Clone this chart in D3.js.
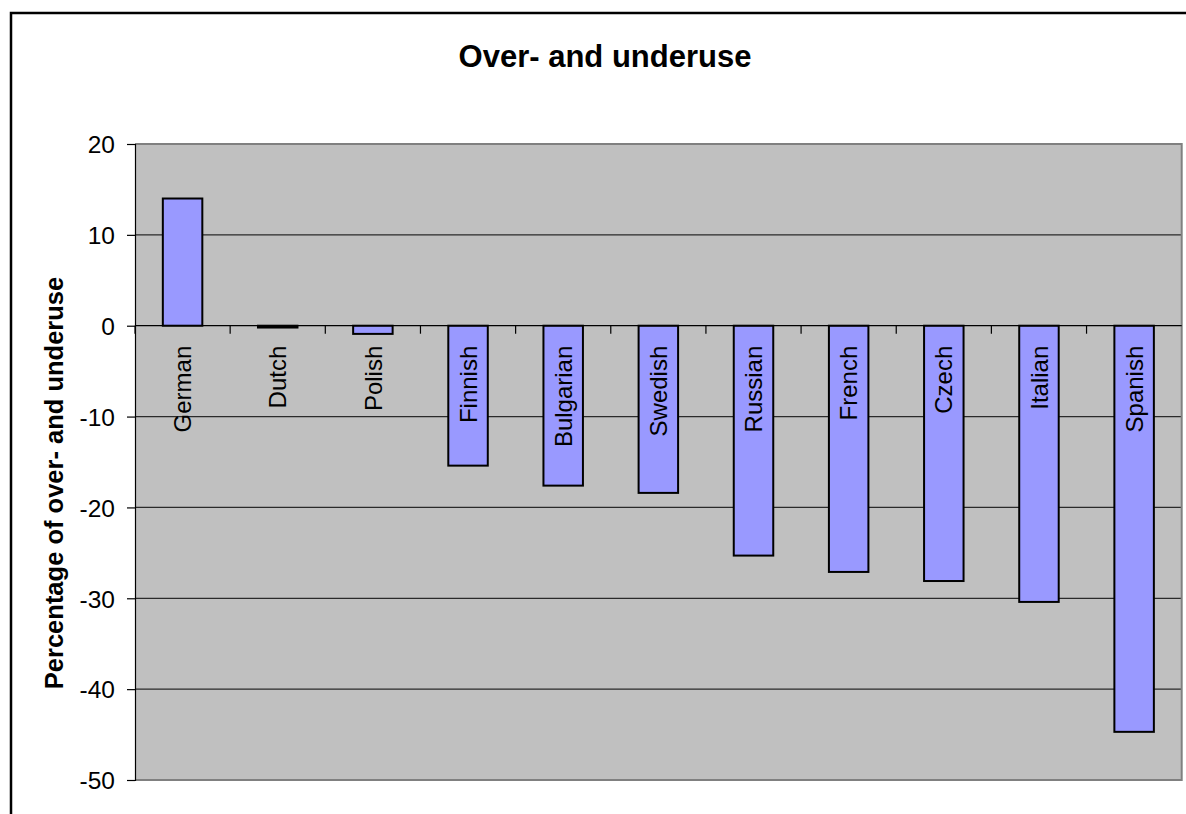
<!DOCTYPE html>
<meta charset="utf-8">
<style>
  body { margin: 0; background: #fff; }
  svg text { font-family: "Liberation Sans", Arial, sans-serif; fill: #000; }
</style>

<!-- Load d3.js -->
<script src="https://d3js.org/d3.v7.min.js"></script>

<!-- Create a div where the graph will take place -->
<div id="overuse"></div>

<script>
    // data
    var languages = ["German", "Dutch", "Polish", "Finnish", "Bulgarian", "Swedish",
                     "Russian", "French", "Czech", "Italian", "Spanish"];
    var percentages = [14.0, -0.2, -0.9, -15.4, -17.6, -18.4, -25.3, -27.1, -28.1, -30.4, -44.7];
    var yTicks = [20, 10, 0, -10, -20, -30, -40, -50];

    var data = languages.map(function(d, i) { return {lang: d, value: percentages[i]}; });

    var W = 1186, H = 814;
    var margin = {top: 144, right: 4.3, bottom: 34, left: 135},
        width = W - margin.left - margin.right,
        height = H - margin.top - margin.bottom;

    var root = d3.select("#overuse")
      .append("svg")
        .attr("width", W)
        .attr("height", H);

    // outer chart frame (runs off the right and bottom edge)
    root.append("rect")
        .attr("x", 11).attr("y", 13)
        .attr("width", 1300).attr("height", 1000)
        .attr("fill", "#fff")
        .attr("stroke", "#000")
        .attr("stroke-width", 2.5);

    root.append("text")
        .attr("x", 605).attr("y", 67)
        .attr("text-anchor", "middle")
        .style("font-size", "31px")
        .style("font-weight", "bold")
        .text("Over- and underuse");

    root.append("text")
        .attr("transform", "translate(63,483)rotate(-90)")
        .attr("text-anchor", "middle")
        .style("font-size", "25.5px")
        .style("font-weight", "bold")
        .text("Percentage of over- and underuse");

    var svg = root.append("g")
        .attr("transform", "translate(" + margin.left + "," + margin.top + ")");

    var x = d3.scaleBand()
      .domain(languages)
      .range([0, width])
      .paddingInner(0.585)
      .paddingOuter(0.2925);

    var y = d3.scaleLinear()
      .domain([-50, 20])
      .range([height, 0]);

    // plot background
    svg.append("rect")
        .attr("width", width)
        .attr("height", height)
        .attr("fill", "#c0c0c0");

    // gridlines
    svg.selectAll("grid")
      .data(yTicks.filter(function(t) { return t !== 0 && t !== 20 && t !== -50; }))
      .enter()
      .append("line")
        .attr("x1", 0).attr("x2", width)
        .attr("y1", function(d) { return y(d); })
        .attr("y2", function(d) { return y(d); })
        .attr("stroke", "#2a2a2a")
        .attr("stroke-width", 1.2);

    // plot border top/right/bottom
    svg.append("path")
        .attr("d", "M0,0H" + width + "V" + height + "H0")
        .attr("fill", "none")
        .attr("stroke", "#808080")
        .attr("stroke-width", 2);

    // Y axis (plain hyphen for negatives, like the original)
    var yAxis = svg.append("g")
        .call(d3.axisLeft(y).tickValues(yTicks).tickSize(8).tickPadding(12)
              .tickFormat(function(d) { return String(d); }));
    yAxis.select(".domain").attr("stroke", "#000").attr("stroke-width", 1.2);
    yAxis.selectAll(".tick line").attr("stroke", "#000").attr("stroke-width", 1.2);
    yAxis.selectAll("text")
        .attr("dy", "0.36em")
        .style("font-size", "24.5px")
        .style("font-family", "'Liberation Sans', Arial, sans-serif");

    // Bars
    svg.selectAll("myRect")
      .data(data)
      .enter()
      .append("rect")
        .attr("x", function(d) { return x(d.lang); })
        .attr("y", function(d) { return y(Math.max(0, d.value)); })
        .attr("width", x.bandwidth())
        .attr("height", function(d) { return Math.abs(y(d.value) - y(0)); })
        .attr("fill", "#9999ff")
        .attr("stroke", "#000")
        .attr("stroke-width", 2);

    // zero line with category ticks
    svg.append("line")
        .attr("x1", 0).attr("x2", width)
        .attr("y1", y(0)).attr("y2", y(0))
        .attr("stroke", "#000")
        .attr("stroke-width", 1.2);

    svg.selectAll("catTick")
      .data(d3.range(languages.length))
      .enter()
      .append("line")
        .attr("x1", function(i) { return i * x.step(); })
        .attr("x2", function(i) { return i * x.step(); })
        .attr("y1", y(0)).attr("y2", y(0) + 8)
        .attr("stroke", "#000")
        .attr("stroke-width", 1.2);

    // category labels, rotated, hanging under the zero line
    svg.selectAll("catLabel")
      .data(data)
      .enter()
      .append("text")
        .attr("transform", function(d) {
          return "translate(" + (x(d.lang) + x.bandwidth() / 2) + "," + (y(0) + 20) + ")rotate(-90)";
        })
        .attr("text-anchor", "end")
        .attr("dy", "0.36em")
        .style("font-size", "24px")
        .text(function(d) { return d.lang; });
</script>
